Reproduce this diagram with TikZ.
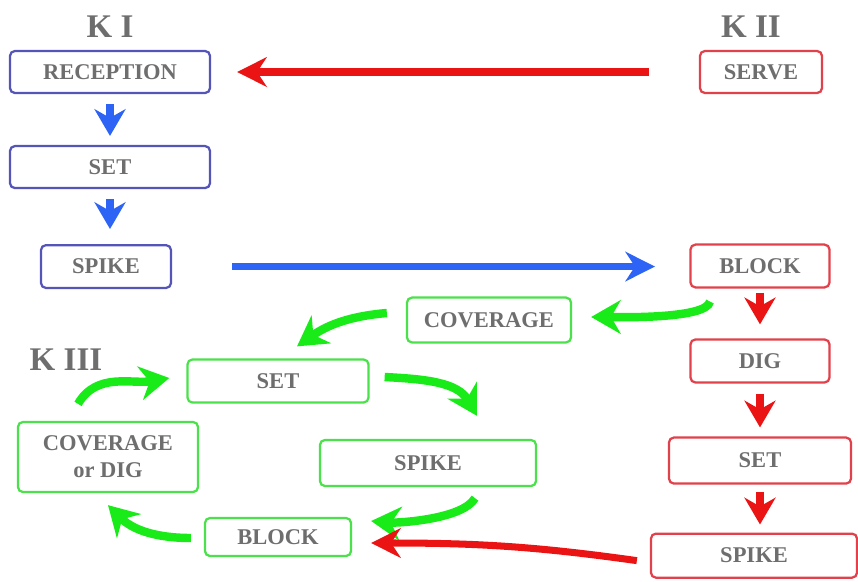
\documentclass[tikz,border=0pt]{standalone}
\usepackage{fontspec}
\setmainfont{Liberation Serif}
\usetikzlibrary{positioning,calc,arrows.meta}

\definecolor{kione}{RGB}{85,85,185}
\definecolor{kitwo}{RGB}{225,65,75}
\definecolor{kithree}{RGB}{75,225,75}
\definecolor{bluearr}{RGB}{45,100,245}
\definecolor{redarr}{RGB}{235,20,20}
\definecolor{greenarr}{RGB}{25,235,25}
\definecolor{txtgray}{RGB}{110,110,110}

\tikzset{
  box/.style={rectangle, rounded corners=3.5pt, line width=1.6pt, fill=white,
    text=txtgray, font=\bfseries\fontsize{16}{19}\selectfont,
    minimum height=1.05cm, inner sep=2pt, align=center},
  kibox/.style={box, draw=kione},
  kiibox/.style={box, draw=kitwo},
  kiiibox/.style={box, draw=kithree},
  klabel/.style={text=txtgray, font=\bfseries\fontsize{23.5}{26}\selectfont, inner sep=0pt},
  longedge/.style={line width=5pt, -{Stealth[length=21pt,width=21pt]}},
  shortedge/.style={line width=6pt, -{Stealth[length=19pt,width=22pt]}},
  greenedge/.style={draw=greenarr, line width=6pt, -{Stealth[length=21pt,width=24pt]}},
}

\begin{document}
\begin{tikzpicture}[x=0.025cm, y=-0.025cm]
    \useasboundingbox (0,0) rectangle (858,581) ;

    \node[kibox, minimum width=5cm] (rec) at (110,72) {RECEPTION} ;
    \node[kibox, minimum width=5cm, below = 1.27cm of rec] (set1) {SET} ;
    \node[kibox, minimum width=3.25cm, minimum height=1.07cm, below = 1.37cm of set1, xshift=-0.1cm] (spk1) {SPIKE} ;
    \node[klabel, above = 0.3cm of rec] (k1) {K I} ;
    \draw[shortedge, bluearr, shorten <=0.25cm, shorten >=0.225cm] (rec.south) -- (set1.north) ;
    \draw[shortedge, bluearr, shorten <=0.25cm, shorten >=0.375cm] (set1.south) -- (set1.south |- spk1.north) ;

    \node[kiibox, minimum width=3.05cm] (serve) at (761,72) {SERVE} ;
    \node[klabel, above = 0.3cm of serve, xshift=-0.25cm] (k2) {K II} ;
    \node[kiibox, minimum width=3.475cm, minimum height=1.07cm] (blk2) at (760,266) {BLOCK} ;
    \node[kiibox, minimum width=3.475cm, minimum height=1.075cm, below = 1.245cm of blk2] (dig) {DIG} ;
    \node[kiibox, minimum width=4.55cm, minimum height=1.15cm, below = 1.32cm of dig] (set2) {SET} ;
    \node[kiibox, minimum width=5.15cm, minimum height=1.1cm, below = 1.195cm of set2, xshift=-0.15cm] (spk2) {SPIKE} ;
    \draw[shortedge, redarr, shorten <=0.1cm, shorten >=0.35cm] (blk2.south) -- (dig.north) ;
    \draw[shortedge, redarr, shorten <=0.25cm, shorten >=0.225cm] (dig.south) -- (set2.north) ;
    \draw[shortedge, redarr, shorten <=0.175cm, shorten >=0.2cm] (set2.south) -- (set2.south |- spk2.north) ;

    \draw[longedge, redarr, shorten <=1.25cm, shorten >=0.65cm] (serve.west) -- (rec.east) ;
    \draw[longedge, bluearr, shorten <=1.5cm, shorten >=0.86cm] (spk1.east) -- (spk1.east -| blk2.west) ;

    \node[kiiibox, minimum width=4.1cm, minimum height=1.12cm] (cov) at (489,320) {COVERAGE} ;
    \node[kiiibox, minimum width=4.525cm, minimum height=1.075cm] (set3) at (278,381) {SET} ;
    \node[kiiibox, minimum width=4.5cm, minimum height=1.75cm] (cod) at (108,457) {COVERAGE\\or DIG} ;
    \node[kiiibox, minimum width=5.4cm, minimum height=1.15cm] (spk3) at (428,463) {SPIKE} ;
    \node[kiiibox, minimum width=3.65cm, minimum height=0.95cm] (blk3) at (278,537) {BLOCK} ;
    \node[klabel] (k3) at (66,360) {K III} ;

    \draw[greenedge] ($(blk2.south)+(-50,13)$) to[out=-100, in=0, looseness=0.4] ($(cov.east)+(19,-3)$) ;
    \draw[greenedge] ($(cov.west)+(-19,-7)$) to[out=185, in=35] ($(set3.north)+(19,-12)$) ;
    \draw[greenedge] ($(set3.east)+(15,-4)$) to[out=-3, in=120] ($(spk3.north)+(49,-23)$) ;
    \draw[greenedge] ($(spk3.south)+(47,11)$) to[out=-120, in=-5, looseness=0.6] ($(blk3.east)+(19,-16)$) ;
    \draw[greenedge] ($(blk3.west)+(-13,1)$) to[out=180, in=-45] ($(cod.south)+(0,12)$) ;
    \draw[greenedge] ($(cod.north)+(-30,-17)$) to[out=60, in=190] ($(set3.west)+(-17,-3)$) ;
    \draw[longedge, redarr] ($(spk2.west)+(-13,5)$) to[out=172, in=0] ($(blk3.east)+(19,6)$) ;
\end{tikzpicture}
\end{document}
